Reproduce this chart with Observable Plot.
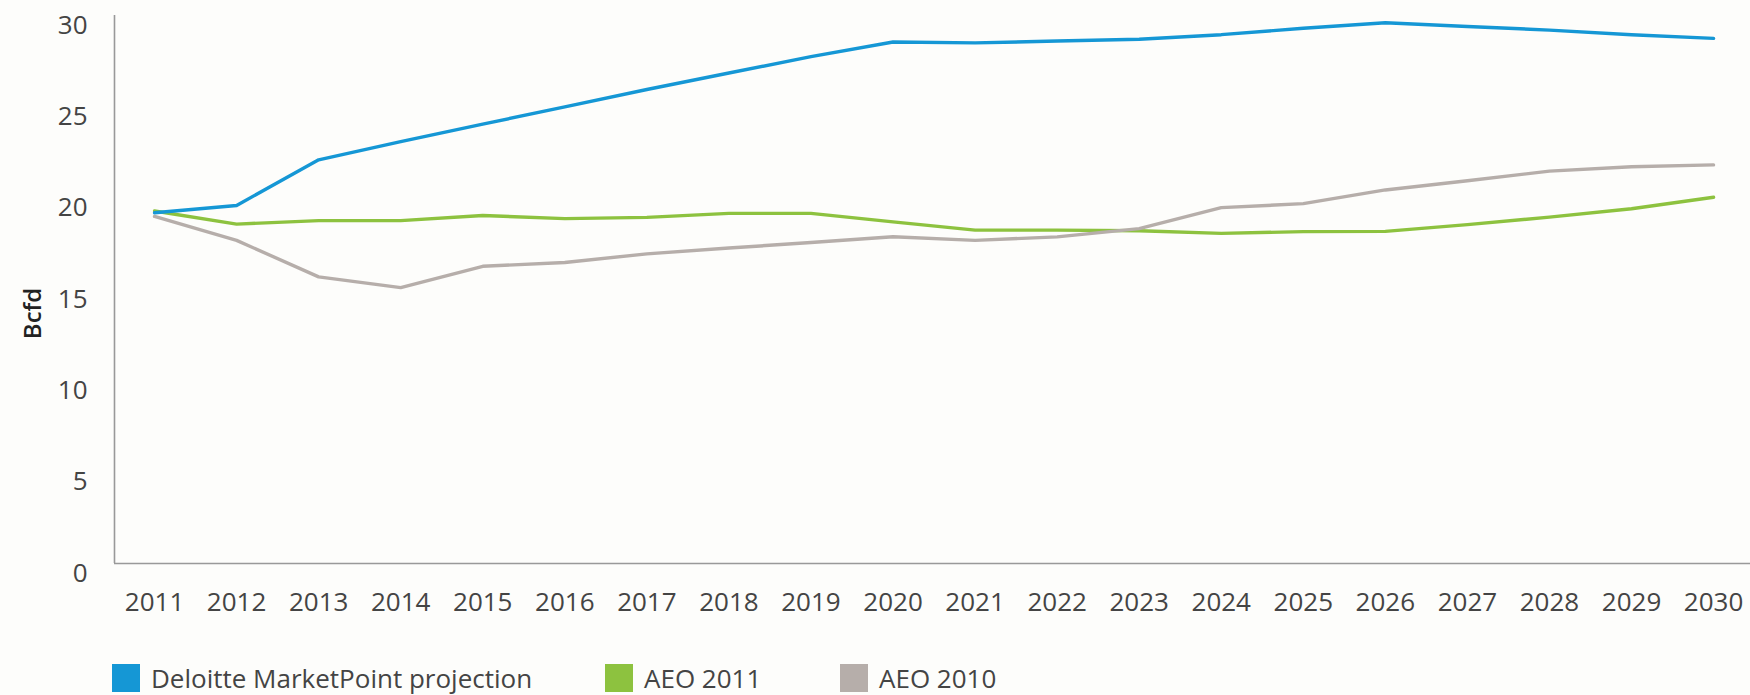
<!DOCTYPE html>
<html>
<head>
<meta charset="utf-8">
<script src="https://cdn.jsdelivr.net/npm/d3@7"></script>
<script src="https://cdn.jsdelivr.net/npm/@observablehq/plot@0.6"></script>
<style>
  html, body { margin: 0; padding: 0; background: #fdfdfb; }
  #wrap { position: relative; width: 1750px; height: 695px; overflow: hidden; background: #fdfdfb; font-family: "Open Sans", sans-serif; }
  .legend-item { position: absolute; top: 664px; display: flex; align-items: center; font-size: 26px; color: #444; line-height: 28px; }
  .legend-item .sw { width: 28px; height: 28px; margin-right: 11px; }
</style>
</head>
<body>
<div id="wrap"></div>
<script>
// ---- data ----
const years = [2011, 2012, 2013, 2014, 2015, 2016, 2017, 2018, 2019, 2020,
               2021, 2022, 2023, 2024, 2025, 2026, 2027, 2028, 2029, 2030];
const deloitte = [19.2, 19.6, 22.1, 23.1, 24.05, 25.0, 25.95, 26.85, 27.75, 28.55,
                  28.5, 28.6, 28.7, 28.95, 29.3, 29.6, 29.4, 29.2, 28.95, 28.75];
const aeo2011 = [19.3, 18.58, 18.77, 18.77, 19.05, 18.88, 18.95, 19.17, 19.17, 18.7,
                 18.25, 18.25, 18.22, 18.07, 18.17, 18.18, 18.55, 18.96, 19.42, 20.05];
const aeo2010 = [19.0, 17.69, 15.69, 15.1, 16.27, 16.48, 16.95, 17.27, 17.57, 17.89,
                 17.69, 17.88, 18.33, 19.48, 19.7, 20.45, 20.95, 21.48, 21.72, 21.82];
const seriesNames = ["Deloitte MarketPoint projection", "AEO 2011", "AEO 2010"];
const seriesColors = ["#1597d5", "#8dc23f", "#b6aeaa"];
const yTicks = [0, 5, 10, 15, 20, 25, 30];
const yLabel = "Bcfd";

// ---- build table ----
const seriesValues = [deloitte, aeo2011, aeo2010];
const rows = [];
seriesNames.forEach((name, s) => {
  years.forEach((yr, i) => rows.push({series: name, year: yr, value: seriesValues[s][i]}));
});
const drawOrder = [seriesNames[1], seriesNames[2], seriesNames[0]];

const xDomain = [2010.512, 2030.45];

const chart = Plot.plot({
  width: 1750,
  height: 650,
  marginLeft: 114,
  marginRight: 0,
  marginTop: 15,
  marginBottom: 87,
  style: {fontFamily: "Open Sans", fontSize: "26px", color: "#444", background: "#fdfdfb", overflow: "visible"},
  x: {type: "linear", domain: xDomain},
  y: {domain: [0, 30]},
  color: {domain: seriesNames, range: seriesColors},
  marks: [
    Plot.axisX({ticks: years, tickFormat: d => String(d), tickSize: 0, tickPadding: 29, label: null, fill: "#444"}),
    Plot.axisY({ticks: yTicks, tickSize: 0, tickPadding: 27, dy: 10, label: null, fill: "#444"}),
    Plot.text([yLabel], {frameAnchor: "left", dx: -81, dy: 24, rotate: -90, textAnchor: "middle",
      fontSize: 24, fontWeight: 600, fill: "#222"}),
    Plot.ruleY([0], {stroke: "#999", strokeWidth: 1.6}),
    Plot.ruleX([xDomain[0]], {stroke: "#999", strokeWidth: 1.6}),
    ...drawOrder.map(name => Plot.line(rows.filter(r => r.series === name),
      {x: "year", y: "value", stroke: "series", strokeWidth: 3.4, strokeLinejoin: "round"}))
  ]
});

const wrap = document.getElementById("wrap");
wrap.appendChild(chart);

const legendPos = [112, 605, 840];
seriesNames.forEach((name, i) => {
  const item = document.createElement("div");
  item.className = "legend-item";
  item.style.left = legendPos[i] + "px";
  const sw = document.createElement("span");
  sw.className = "sw";
  sw.style.background = seriesColors[i];
  const tx = document.createElement("span");
  tx.textContent = name;
  item.appendChild(sw);
  item.appendChild(tx);
  wrap.appendChild(item);
});
</script>
</body>
</html>
